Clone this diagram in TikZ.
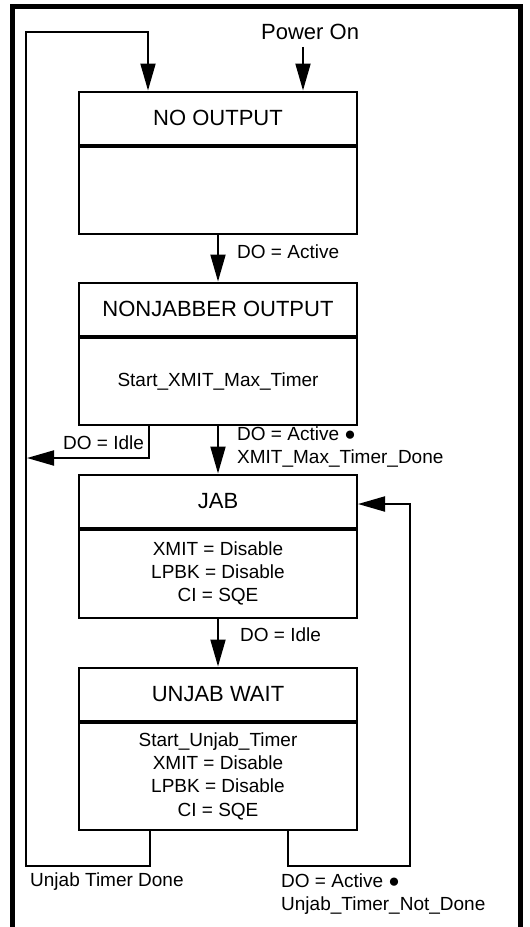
\documentclass[tikz,border=0pt]{standalone}
\usepackage{fontspec}
\setmainfont{Liberation Sans}
\usetikzlibrary{arrows.meta,positioning}

\begin{document}
\begin{tikzpicture}[x=1pt,y=-1pt,>={Triangle[length=27pt,width=15pt]},line join=miter,
  title/.style={draw,line width=2pt,minimum width=278pt,minimum height=53pt,inner sep=0pt,font=\fontsize{22}{26}\selectfont},
  body/.style={draw,line width=2pt,minimum width=278pt,inner sep=0pt,align=center,font=\fontsize{19}{23.3}\selectfont},
  conn/.style={line width=2pt},
  lbl/.style={anchor=west,inner sep=0pt,align=left,font=\fontsize{19}{23.3}\selectfont}]
  \useasboundingbox (0,0) rectangle (530,927);
  \draw[line width=4.5pt] (12.5,927) -- (12.5,6.5) -- (520.5,6.5) -- (520.5,927);
  % states
  \node[title] (noout) at (218,118) {NO OUTPUT};
  \node[body,minimum height=87pt,below=0pt of noout] (nooutB) {};
  \node[title] (nojab) at (218,309) {NONJABBER OUTPUT};
  \node[body,minimum height=87pt,below=0pt of nojab] (nojabB) {Start\_XMIT\_Max\_Timer};
  \node[title] (jab) at (218,501) {JAB};
  \node[body,minimum height=88pt,below=0pt of jab] (jabB) {XMIT = Disable\\LPBK = Disable\\CI = SQE};
  \node[title] (unjab) at (218,694) {UNJAB WAIT};
  \node[body,minimum height=107pt,below=0pt of unjab] (unjabB) {Start\_Unjab\_Timer\\XMIT = Disable\\LPBK = Disable\\CI = SQE};
  \node[lbl,font=\fontsize{22}{26}\selectfont] (pwr) at (261,32) {Power On};
  \coordinate (railL) at (26,32);
  \coordinate (railR) at (410,862);
  \coordinate (idleIn) at (27,458);
  \coordinate (pwrIn) at ([xshift=85pt]noout.north);
  % transitions
  \draw[conn,->] ([yshift=-7pt]pwr.south -| pwrIn) -- (pwrIn);
  \draw[conn,->] (nooutB.south) -- (nojab.north);
  \draw[conn,->] (nojabB.south) -- (jab.north);
  \draw[conn,->] (jabB.south) -- (unjab.north);
  \draw[conn,->] ([xshift=-69pt]nojabB.south) |- (idleIn);
  \draw[conn,->] ([xshift=-68pt]unjabB.south) -- ++(0,35) -| (railL) -| ([xshift=-70pt]noout.north);
  \draw[conn,->] ([xshift=70pt]unjabB.south) -- ++(0,35) -| (railR) |- ([yshift=-3pt]jab.east);
  % labels
  \node[lbl] at (237,252) {DO = Active};
  \node[lbl] at (63,443) {DO = Idle};
  \node[lbl] at (237,447) {DO = Active ●\\XMIT\_Max\_Timer\_Done};
  \node[lbl] at (240,635) {DO = Idle};
  \node[lbl] at (30,882) {Unjab Timer Done};
  \node[lbl] at (281,894) {DO = Active ●\\Unjab\_Timer\_Not\_Done};
\end{tikzpicture}
\end{document}
